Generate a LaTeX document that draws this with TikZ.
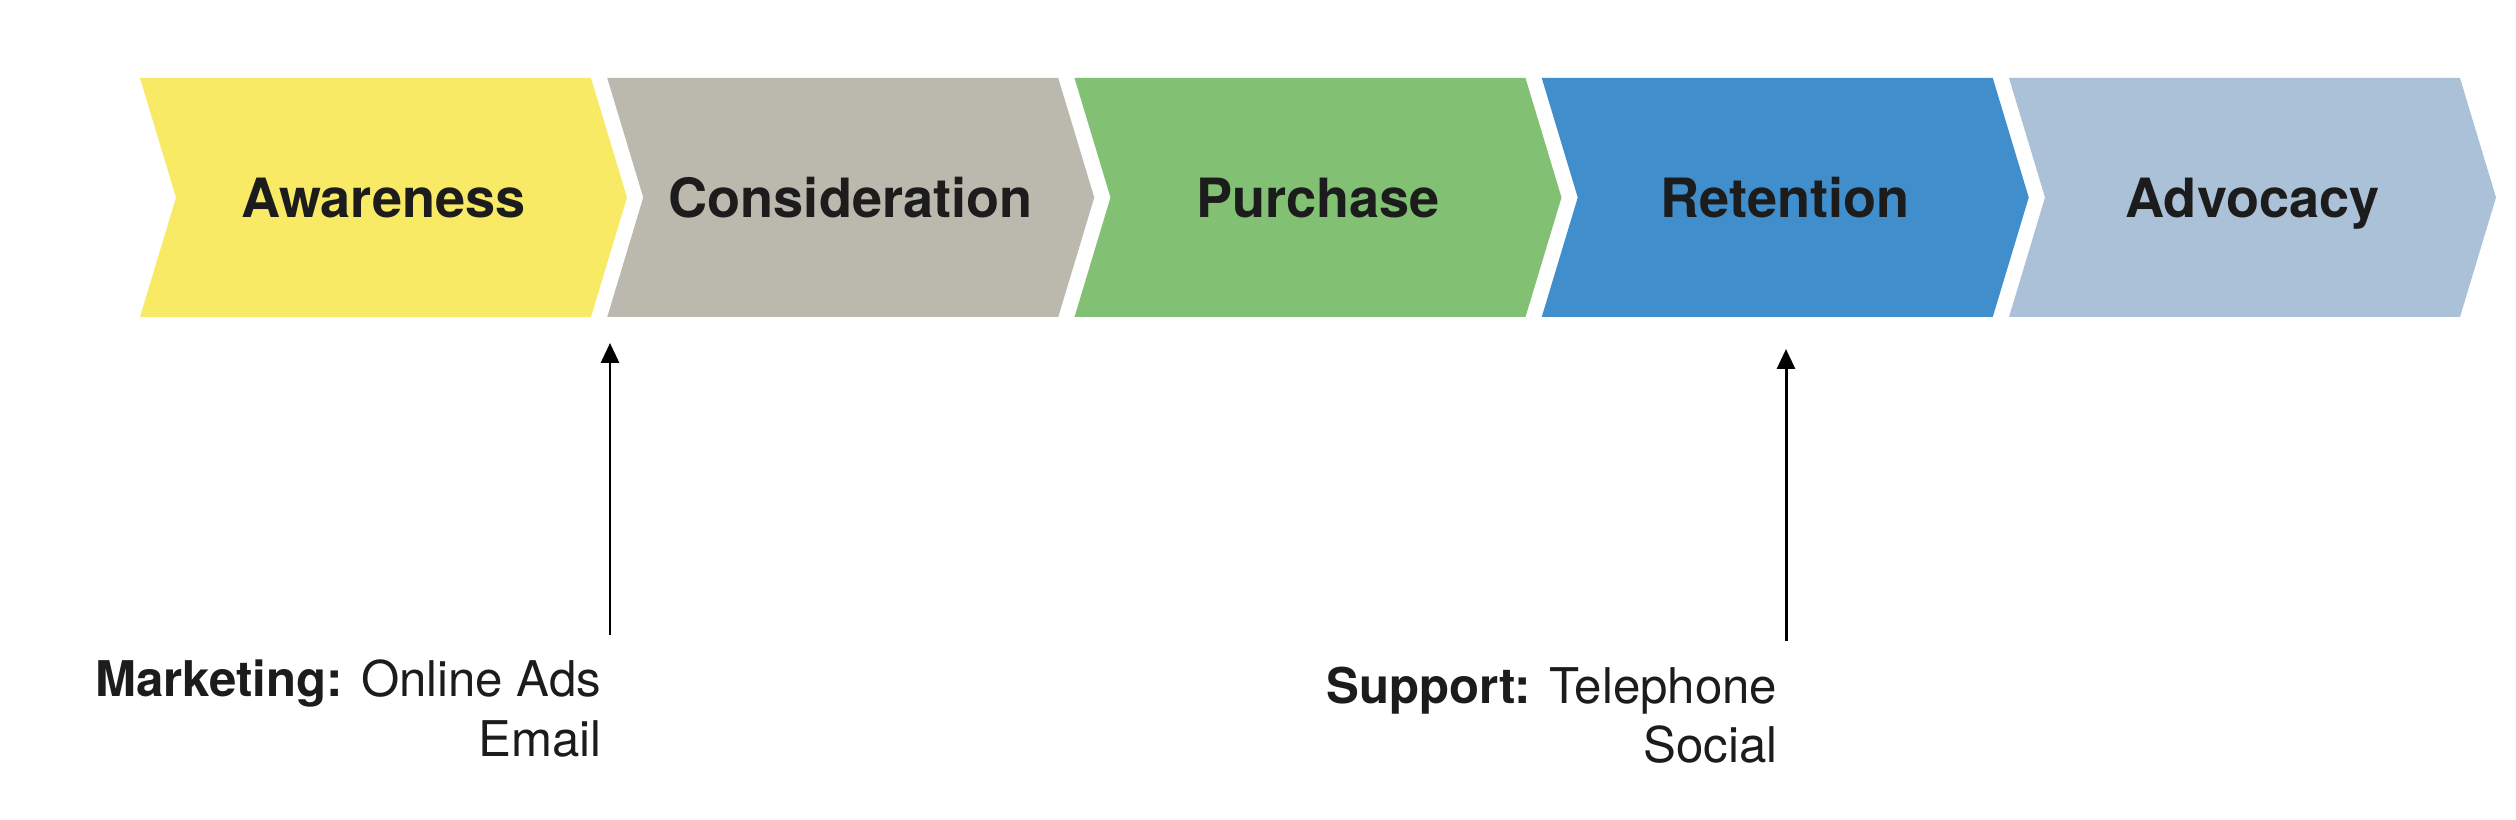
\documentclass[tikz,border=0pt]{standalone}
\usepackage{fontspec}
\setmainfont{TeX Gyre Heros}
\usepackage{tikz}
\usetikzlibrary{arrows.meta, positioning, calc}
\definecolor{awareyellow}{RGB}{249, 234, 102}
\definecolor{considgray}{RGB}{187, 184, 173}
\definecolor{purchgreen}{RGB}{130, 192, 115}
\definecolor{retainblue}{RGB}{64, 142, 203}
\definecolor{advocblue}{RGB}{170, 193, 216}
\definecolor{inkblack}{RGB}{28, 28, 28}

\begin{document}
\begin{tikzpicture}[
  stagelabel/.style={anchor=base, inner sep=0pt, text=inkblack, font=\fontsize{15.4}{18}\selectfont\bfseries},
  note/.style={anchor=north east, align=right, inner xsep=0.08cm, inner ysep=0pt, text=inkblack, font=\fontsize{14}{17}\selectfont},
  pin/.style={-{Triangle[length=0.2cm, width=0.18cm]}, line width=0.85pt, black}
]
  \useasboundingbox (0, 0) rectangle (25.16, 8.20);

  % Stages of the journey
  \foreach \name/\txt/\col [count=\i from 0] in {aware/Awareness/awareyellow, consid/Consideration/considgray, purch/Purchase/purchgreen, retain/Retention/retainblue, advoc/Advocacy/advocblue} {
    \pgfmathsetmacro{\x}{1.40 + \i*4.6725}
    \fill[\col] (\x, 7.42) -- ++(4.51, 0) -- ++(0.36, -1.195) -- ++(-0.36, -1.195) -- ++(-4.51, 0) -- ++(0.36, 1.195) -- cycle;
    \node[stagelabel] (\name) at (\x + 2.435, 6.02) {\txt};
  }

  % Touchpoints
  \node[note] (mkt) at (6.10, 1.61) {\textbf{Marketing:} Online Ads\\Email};
  \node[note] (sup) at (17.86, 1.54) {\textbf{Support:} Telephone\\Social};

  \coordinate (mkttip) at (6.10, 4.77);
  \coordinate (suptip) at (17.86, 4.71);

  \draw[pin, shorten <=0.24cm] (mkt.north east) -- (mkttip);
  \draw[pin, shorten <=0.25cm] (sup.north east) -- (suptip);
\end{tikzpicture}
\end{document}
